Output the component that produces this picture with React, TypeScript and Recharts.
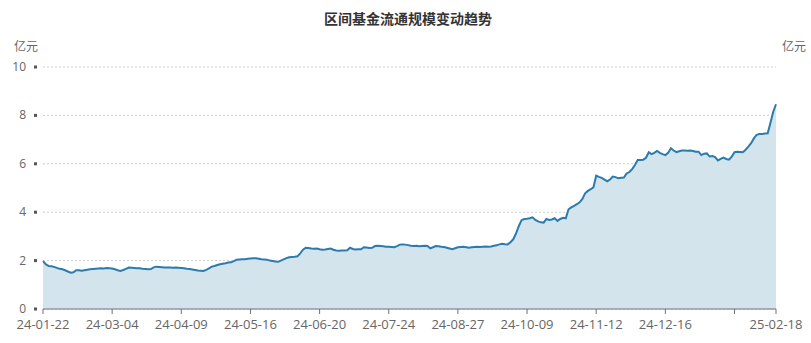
import { ComposedChart, Area, XAxis, YAxis, CartesianGrid } from 'recharts';

// 区间基金流通规模（亿元），按交易日
const scaleValues = [
    1.98, 1.85, 1.78, 1.77, 1.74, 1.70, 1.66, 1.64, 1.60, 1.55,
    1.50, 1.52, 1.60, 1.60, 1.58, 1.60, 1.62, 1.64, 1.65, 1.66,
    1.67, 1.68, 1.67, 1.69, 1.68, 1.67, 1.64, 1.60, 1.57, 1.61,
    1.66, 1.71, 1.70, 1.69, 1.68, 1.68, 1.66, 1.65, 1.64, 1.65,
    1.72, 1.75, 1.74, 1.73, 1.72, 1.72, 1.71, 1.70, 1.71, 1.70,
    1.69, 1.68, 1.66, 1.65, 1.63, 1.61, 1.59, 1.58, 1.57, 1.62,
    1.68, 1.75, 1.78, 1.82, 1.85, 1.87, 1.89, 1.92, 1.93, 1.98,
    2.04, 2.05, 2.06, 2.06, 2.08, 2.09, 2.10, 2.10, 2.08, 2.06,
    2.05, 2.04, 2.00, 1.98, 1.96, 1.95, 2.00, 2.05, 2.10, 2.14,
    2.15, 2.16, 2.18, 2.30, 2.45, 2.53, 2.52, 2.50, 2.49, 2.50,
    2.47, 2.45, 2.46, 2.48, 2.50, 2.45, 2.42, 2.41, 2.42, 2.42,
    2.43, 2.53, 2.48, 2.46, 2.47, 2.47, 2.55, 2.54, 2.52, 2.53,
    2.60, 2.61, 2.60, 2.59, 2.57, 2.57, 2.56, 2.55, 2.60, 2.66,
    2.67, 2.66, 2.64, 2.61, 2.60, 2.61, 2.59, 2.60, 2.61, 2.60,
    2.51, 2.55, 2.60, 2.59, 2.57, 2.56, 2.53, 2.50, 2.47, 2.51,
    2.55, 2.56, 2.57, 2.55, 2.53, 2.55, 2.56, 2.57, 2.56, 2.57,
    2.58, 2.57, 2.58, 2.61, 2.63, 2.67, 2.70, 2.68, 2.67, 2.76,
    2.88, 3.12, 3.42, 3.67, 3.72, 3.73, 3.75, 3.79, 3.68, 3.62,
    3.58, 3.57, 3.72, 3.68, 3.70, 3.75, 3.64, 3.72, 3.77, 3.75,
    4.12, 4.20, 4.26, 4.33, 4.41, 4.55, 4.78, 4.88, 4.95, 5.03,
    5.51, 5.46, 5.42, 5.35, 5.28, 5.35, 5.47, 5.45, 5.40, 5.42,
    5.43, 5.60, 5.66, 5.78, 5.95, 6.16, 6.16, 6.17, 6.25, 6.48,
    6.40, 6.45, 6.53, 6.45, 6.40, 6.36, 6.45, 6.64, 6.55, 6.48,
    6.52, 6.55, 6.55, 6.54, 6.55, 6.53, 6.50, 6.50, 6.36, 6.42,
    6.43, 6.30, 6.32, 6.28, 6.14, 6.20, 6.26, 6.20, 6.17, 6.30,
    6.48, 6.50, 6.49, 6.48, 6.58, 6.71, 6.85, 7.05, 7.20, 7.23,
    7.23, 7.25, 7.26, 7.70, 8.15, 8.46
];

// x 轴刻度（交易日序号）与标签
const dateTicks = [0, 25, 50, 75, 100, 125, 150, 175, 200, 225, 250, 265];
const dateLabels = [
    '24-01-22', '24-03-04', '24-04-09', '24-05-16', '24-06-20', '24-07-24',
    '24-08-27', '24-10-09', '24-11-12', '24-12-16', '', '25-02-18'
];
const valueTicks = [0, 2, 4, 6, 8, 10];

const FONT = "'Open Sans', 'Noto Sans CJK SC', sans-serif";
const CJK = "'Noto Sans CJK SC', sans-serif";

const data = scaleValues.map((v, i) => ({ i, v }));

function LeftTick({ x, y, payload }: any) {
    return (
        <g>
            <rect x={x - 9} y={y - 1.5} width={3} height={3} fill="#555" />
            <text x={x - 17} y={y} dy={4} textAnchor="end" fontSize={12} fill="#666" fontFamily={FONT}>
                {payload.value}
            </text>
        </g>
    );
}

function RightTick({ x, y, payload }: any) {
    return (
        <g>
            <rect x={x + 6.5} y={y - 1.5} width={3} height={3} fill="#555" />
            <text x={x + 11} y={y} dy={4} textAnchor="start" fontSize={12} fill="#666" fontFamily={FONT}>
                {payload.value}
            </text>
        </g>
    );
}

export default function App() {
    return (
        <div style={{ position: 'absolute', left: 0, top: 0, width: 811, height: 343, background: '#fff' }}>
            <div
                style={{
                    position: 'absolute', left: 0, top: 8, width: 816, textAlign: 'center',
                    fontFamily: CJK, fontSize: 14, fontWeight: 'bold', color: '#333', lineHeight: '20px'
                }}
            >
                区间基金流通规模变动趋势
            </div>
            <div style={{ position: 'absolute', left: 14, top: 38, fontFamily: CJK, fontSize: 12, color: '#666', lineHeight: '16px' }}>
                亿元
            </div>
            <div style={{ position: 'absolute', left: 782, top: 38, fontFamily: CJK, fontSize: 12, color: '#666', lineHeight: '16px' }}>
                亿元
            </div>
            <ComposedChart width={811} height={343} data={data} margin={{ top: 67, right: 0, left: 0, bottom: 0 }}>
                <CartesianGrid yAxisId="left" horizontal vertical={false} stroke="#ccc" strokeDasharray="2 2" />
                <XAxis
                    dataKey="i"
                    type="number"
                    domain={[0, 265]}
                    ticks={dateTicks}
                    interval={0}
                    tickFormatter={(v: number) => dateLabels[dateTicks.indexOf(v)] ?? ''}
                    height={34}
                    tickSize={5}
                    tickMargin={6}
                    stroke="#6e7079"
                    tick={{ fontSize: 13, fill: '#666', fontFamily: FONT }}
                />
                <YAxis
                    yAxisId="left"
                    domain={[0, 10]}
                    ticks={valueTicks}
                    width={43}
                    axisLine={false}
                    tickLine={false}
                    tickSize={0}
                    tickMargin={0}
                    tick={<LeftTick />}
                />
                <YAxis
                    yAxisId="right"
                    orientation="right"
                    domain={[0, 10]}
                    ticks={valueTicks}
                    width={35}
                    axisLine={false}
                    tickLine={false}
                    tickSize={0}
                    tickMargin={0}
                    tick={<RightTick />}
                />
                <Area
                    yAxisId="left"
                    type="linear"
                    dataKey="v"
                    stroke="#2b7bad"
                    strokeWidth={2}
                    fill="#d3e4ed"
                    fillOpacity={1}
                    dot={false}
                    activeDot={false}
                    isAnimationActive={false}
                />
            </ComposedChart>
        </div>
    );
}
